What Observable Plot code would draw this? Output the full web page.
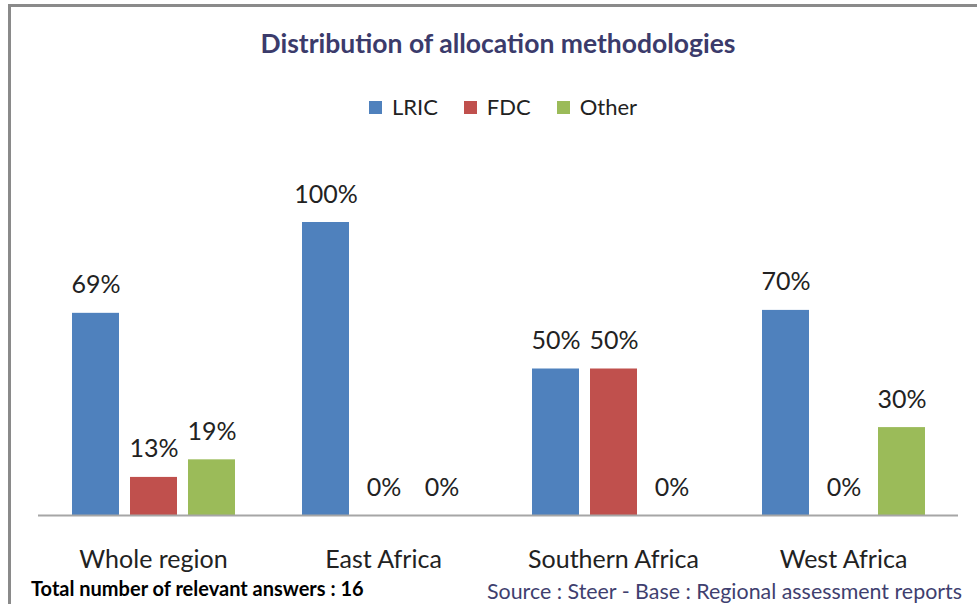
<!DOCTYPE html>
<html>
<head>
<meta charset="utf-8">
<script src="https://cdn.jsdelivr.net/npm/d3@7"></script>
<script src="https://cdn.jsdelivr.net/npm/@observablehq/plot@0.6"></script>
<style>
  html, body { margin: 0; padding: 0; background: #fff; }
  #wrap { position: relative; width: 977px; height: 604px; overflow: hidden; font-family: Lato, "Open Sans", sans-serif; }
  #frame { position: absolute; left: 8px; top: 4px; width: 1200px; height: 900px; border-left: 3px solid #8a8a8a; border-top: 3px solid #8a8a8a; }
  #chart { position: absolute; left: 0; top: 0; }
  .txt { position: absolute; white-space: nowrap; line-height: 1; }
  #title { left: 0; width: 996px; text-align: center; top: 30px; font-size: 26.5px; font-weight: bold; color: #3b3b6b; }
  #legend { left: 0; width: 1006px; top: 96px; display: flex; justify-content: center; font-size: 22px; color: #222; }
  .item { display: flex; align-items: center; margin: 0 13px; }
  .sw { width: 13px; height: 13px; margin-right: 10px; }
  #note { left: 31px; top: 578px; font-size: 20px; font-weight: bold; color: #000; }
  #source { right: 15px; top: 581px; font-size: 21.4px; color: #3f3f6f; }
</style>
</head>
<body>
<div id="wrap">
  <div id="frame"></div>
  <div id="chart"></div>
  <div class="txt" id="title"></div>
  <div class="txt" id="legend"></div>
  <div class="txt" id="note"></div>
  <div class="txt" id="source"></div>
</div>
<script>
const titleText = "Distribution of allocation methodologies";
const noteText = "Total number of relevant answers : 16";
const sourceText = "Source : Steer - Base : Regional assessment reports";
const regions = ["Whole region", "East Africa", "Southern Africa", "West Africa"];
const series = ["LRIC", "FDC", "Other"];
const lric = [69, 100, 50, 70];
const fdc = [13, 0, 50, 0];
const other = [19, 0, 0, 30];
const colors = ["#4F81BD", "#C0504D", "#9BBB59"];

const valuesBySeries = [lric, fdc, other];
const data = [];
regions.forEach((r, i) => {
  series.forEach((s, j) => {
    data.push({region: r, series: s, value: valuesBySeries[j][i]});
  });
});

document.getElementById("title").textContent = titleText;
document.getElementById("note").textContent = noteText;
document.getElementById("source").textContent = sourceText;
const legend = document.getElementById("legend");
series.forEach((s, j) => {
  const it = document.createElement("div");
  it.className = "item";
  const sw = document.createElement("span");
  sw.className = "sw";
  sw.style.background = colors[j];
  it.appendChild(sw);
  const t = document.createElement("span");
  t.textContent = s;
  it.appendChild(t);
  legend.appendChild(it);
});

const chart = Plot.plot({
  width: 977,
  height: 604,
  marginTop: 222,
  marginBottom: 89,
  marginLeft: 38,
  marginRight: 19,
  style: {fontFamily: "Lato, 'Open Sans', sans-serif", fontSize: "25px", color: "#222", background: "transparent", overflow: "visible"},
  facet: {data: data, x: "region", marginTop: 0, marginBottom: 0, marginLeft: 0, marginRight: 0},
  fx: {domain: regions, paddingInner: 0.2435, paddingOuter: 0.1217, label: null, tickSize: 0, tickPadding: 35, axis: "bottom"},
  x: {domain: series, paddingInner: 0.19, paddingOuter: 0.095, axis: null},
  y: {domain: [0, 100], axis: null},
  color: {domain: series, range: colors},
  marks: [
    Plot.barY(data, {x: "series", y: "value", fill: "series"}),
    Plot.ruleY([0], {stroke: "#a6a6a6", strokeWidth: 2, insetLeft: -28, insetRight: -28}),
    Plot.text(data, {x: "series", y: "value", text: d => d.value + "%", dy: -28, fill: "#222"})
  ]
});
document.getElementById("chart").appendChild(chart);
</script>
</body>
</html>
